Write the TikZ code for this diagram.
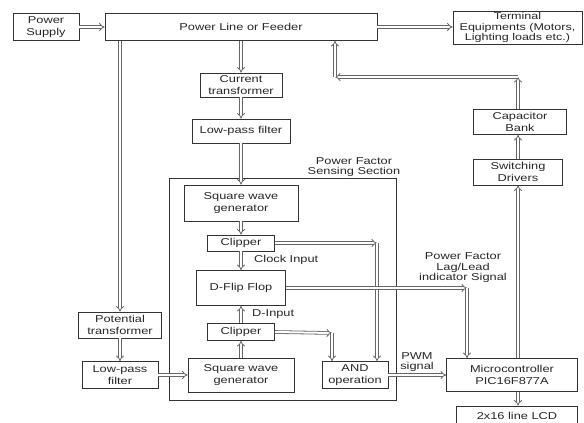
\documentclass[tikz,border=0pt]{standalone}
\usepackage{fontspec}
\setmainfont{Liberation Sans}[FakeStretch=1.28]
\usetikzlibrary{arrows.meta}
\tikzset{
  blk/.style={draw=black!80, line width=0.8pt, align=center, inner sep=0pt, text=black!85, font=\fontsize{10}{11.7}\selectfont},
  flow/.style={draw=black!60, double, double distance=2pt, line width=0.8pt, -{Implies[scale=1.2]}},
  lbl/.style={align=center, inner sep=0pt, text=black!85, font=\fontsize{10}{10.5}\selectfont},
}

\begin{document}
\begin{tikzpicture}[x=1pt, y=-1pt]
\useasboundingbox (0,0) rectangle (584,423);
\clip (0,0) rectangle (584,423);
% top row
\node[blk, minimum width=66, minimum height=27] (psup) at (46,27) {Power\\Supply};
\node[blk, minimum width=272, minimum height=27] (line) at (241,27) {Power Line or Feeder};
\node[blk, minimum width=129, minimum height=33, font=\fontsize{9.8}{10.2}\selectfont] (term) at (517.5,27.5) {Terminal\\Equipments (Motors,\\Lighting loads etc.)};
% current path
\node[blk, minimum width=82, minimum height=24] (ct) at (241,85) {Current\\transformer};
\node[blk, minimum width=98, minimum height=24] (lpfa) at (241,131) {Low-pass filter};
% sensing section
\node[draw=black!80, line width=0.8pt, minimum width=227, minimum height=222] (pfs) at (282.5,289) {};
\node[lbl] (pfslbl) at (354,167) {Power Factor\\Sensing Section};
\node[blk, minimum width=114, minimum height=36] (swga) at (241,203) {Square wave\\generator};
\node[blk, minimum width=67, minimum height=16] (clipa) at (241,243) {Clipper};
\node[blk, minimum width=89, minimum height=35] (dff) at (241,288) {D-Flip Flop};
\node[blk, minimum width=67, minimum height=17] (clipb) at (241,332) {Clipper};
\node[blk, minimum width=106, minimum height=34] (swgb) at (241,375) {Square wave\\generator};
\node[blk, minimum width=66, minimum height=27] (and) at (355,375) {AND\\operation};
\node[lbl, anchor=west] (clk) at (254,260) {Clock Input};
\node[lbl, anchor=west] (din) at (252,314) {D-Input};
% voltage path
\node[blk, minimum width=83, minimum height=26] (pt) at (120,325) {Potential\\transformer};
\node[blk, minimum width=76, minimum height=27] (lpfb) at (120,375) {Low-pass\\filter};
% control side
\node[blk, minimum width=131, minimum height=33] (mcu) at (512,375) {Microcontroller\\PIC16F877A};
\node[blk, minimum width=121, minimum height=20] (lcd) at (517,416) {2x16 line LCD};
\node[blk, minimum width=89, minimum height=26] (sw) at (518,172) {Switching\\Drivers};
\node[blk, minimum width=93, minimum height=25] (cap) at (520,122) {Capacitor\\Bank};
\node[lbl] (pflbl) at (463,268) {Power Factor\\Lag/Lead\\indicator Signal};
\node[lbl] (pwm) at (417,362) {PWM\\signal};
% corner points
\coordinate (ca) at (377,243);
\coordinate (cb) at (332,333);
\coordinate (cd) at (467,288);
\coordinate (cc) at (518,77);
\coordinate (cl) at (335,77);
% connectors
\draw[flow] (psup) -- (line);
\draw[flow] (line.east) -- (term.west |- line.east);
\draw[flow] (line.south -| ct.north) -- (ct.north);
\draw[flow] (ct) -- (lpfa);
\draw[flow] (lpfa) -- (swga);
\draw[flow] (swga) -- (clipa);
\draw[flow] (clipa) -- (dff);
\draw[flow] (clipb) -- (dff);
\draw[flow] (swgb) -- (clipb);
\draw[flow] (line.south -| pt.north) -- (pt.north);
\draw[flow] (pt) -- (lpfb);
\draw[flow] (lpfb) -- (swgb);
\draw[flow] (clipa.east) -- (ca);
\draw[flow] (ca) -- (ca |- and.north);
\draw[flow] (clipb.east) -- (cb);
\draw[flow] (cb) -- (cb |- and.north);
\draw[flow] (dff.east) -- (cd);
\draw[flow] (cd) -- (cd |- mcu.north);
\draw[flow] (and) -- (mcu);
\draw[flow] (sw.south |- mcu.north) -- (sw.south);
\draw[flow] (mcu.south -| cc) -- (lcd.north -| cc);
\draw[flow] (sw.north) -- (sw.north |- cap.south);
\draw[flow] (cap.north -| cc) -- (cc);
\draw[flow] (cc) -- (cl);
\draw[flow] (cl) -- (cl |- line.south);
\end{tikzpicture}
\end{document}
